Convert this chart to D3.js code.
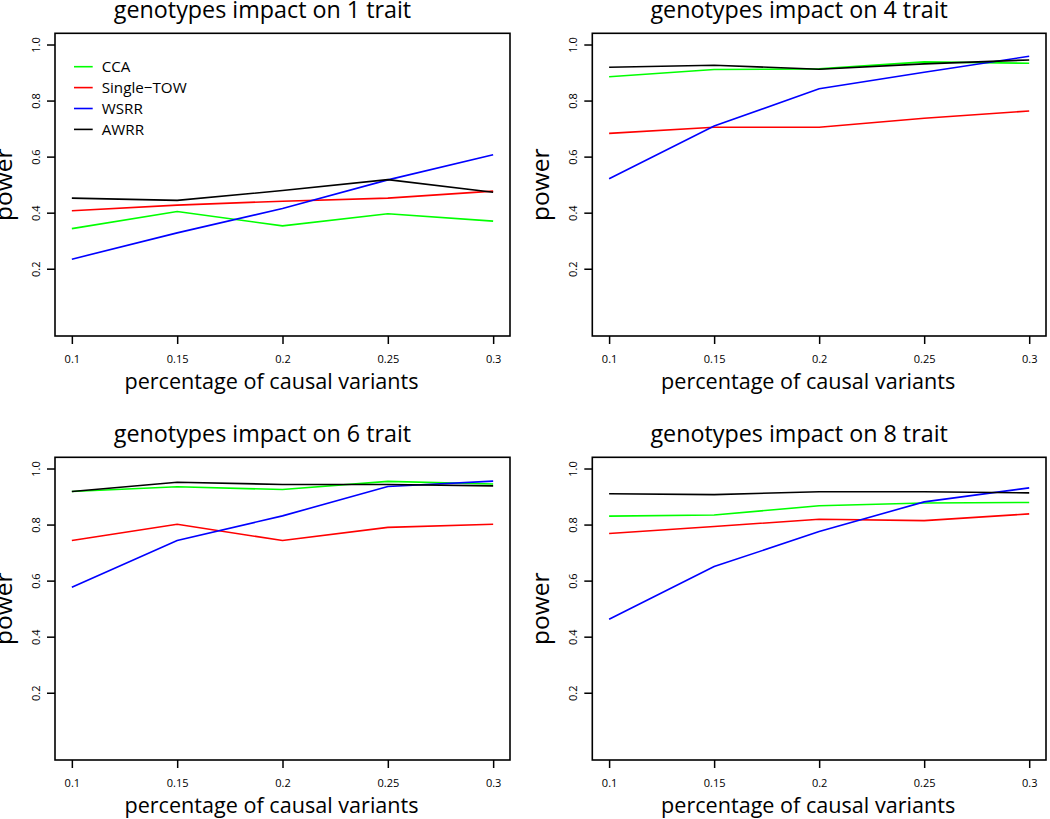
<!DOCTYPE html>
<html>
<head>
<meta charset="utf-8">
<script src="https://d3js.org/d3.v7.min.js"></script>
<style>
  body { margin: 0; background: #fff; }
  svg { display: block; font-family: "Open Sans", sans-serif; }
</style>
</head>
<body>
<svg width="1050" height="819"></svg>
<script>
// x values (percentage of causal variants) and tick labels
var xValues = [0.1, 0.15, 0.2, 0.25, 0.3];
var xTickLabels = ["0.1", "0.15", "0.2", "0.25", "0.3"];
var yTicks = [0.2, 0.4, 0.6, 0.8, 1.0];
var seriesNames = ["CCA", "Single\u2212TOW", "WSRR", "AWRR"];
var panelTitles = [
  "genotypes impact on 1 trait",
  "genotypes impact on 4 trait",
  "genotypes impact on 6 trait",
  "genotypes impact on 8 trait"
];

// power values
var cca1  = [0.343, 0.404, 0.353, 0.396, 0.370];
var tow1  = [0.407, 0.427, 0.441, 0.452, 0.477];
var wsrr1 = [0.234, 0.328, 0.415, 0.517, 0.607];
var awrr1 = [0.452, 0.444, 0.479, 0.518, 0.473];

var cca4  = [0.885, 0.911, 0.913, 0.938, 0.933];
var tow4  = [0.683, 0.705, 0.705, 0.737, 0.763];
var wsrr4 = [0.521, 0.709, 0.842, 0.901, 0.958];
var awrr4 = [0.919, 0.926, 0.912, 0.931, 0.945];

var cca6  = [0.918, 0.935, 0.925, 0.954, 0.945];
var tow6  = [0.743, 0.801, 0.743, 0.790, 0.801];
var wsrr6 = [0.576, 0.743, 0.831, 0.936, 0.955];
var awrr6 = [0.918, 0.951, 0.943, 0.943, 0.938];

var cca8  = [0.830, 0.834, 0.867, 0.877, 0.879];
var tow8  = [0.768, 0.793, 0.819, 0.814, 0.838];
var wsrr8 = [0.462, 0.650, 0.775, 0.881, 0.931];
var awrr8 = [0.910, 0.907, 0.917, 0.917, 0.913];

var panelData = [
  [cca1, tow1, wsrr1, awrr1],
  [cca4, tow4, wsrr4, awrr4],
  [cca6, tow6, wsrr6, awrr6],
  [cca8, tow8, wsrr8, awrr8]
];

var colors = ["#00ff00", "#ff0000", "#0000ff", "#000000"];

// plot boxes (left, right, top, bottom)
var boxes = [
  {l: 55,    r: 510,  t: 33.3,  b: 336},
  {l: 592.3, r: 1046, t: 33.3,  b: 336},
  {l: 55,    r: 510,  t: 457.3, b: 760},
  {l: 592.3, r: 1046, t: 457.3, b: 760}
];

var svg = d3.select("svg");

boxes.forEach(function(box, p) {
  var g = svg.append("g");

  var x = d3.scaleLinear().domain([0.092, 0.308]).range([box.l, box.r]);
  var y = d3.scaleLinear().domain([-0.04, 1.04]).range([box.b, box.t]);

  // x axis
  var xAxis = d3.axisBottom(x)
    .tickValues(xValues)
    .tickFormat(function(d, i) { return xTickLabels[i]; })
    .tickSize(8)
    .tickPadding(11);
  var gx = g.append("g").attr("transform", "translate(0," + box.b + ")").call(xAxis);
  gx.select(".domain").remove();
  gx.selectAll("line").attr("stroke", "#000").attr("stroke-width", 1.5);
  gx.selectAll("text").attr("font-size", 11).attr("fill", "#000")
    .attr("font-family", "Open Sans, sans-serif");

  // y axis with rotated labels
  var yAxis = d3.axisLeft(y)
    .tickValues(yTicks)
    .tickFormat(d3.format(".1f"))
    .tickSize(8);
  var gy = g.append("g").attr("transform", "translate(" + box.l + ",0)").call(yAxis);
  gy.select(".domain").remove();
  gy.selectAll("line").attr("stroke", "#000").attr("stroke-width", 1.5);
  gy.selectAll("text")
    .attr("font-size", 11).attr("fill", "#000")
    .attr("font-family", "Open Sans, sans-serif")
    .attr("transform", "rotate(-90)")
    .attr("x", 0).attr("y", -15.5).attr("dy", 0)
    .attr("text-anchor", "middle");

  // series lines
  var line = d3.line()
    .x(function(d, i) { return x(xValues[i]); })
    .y(function(d) { return y(d); });
  panelData[p].forEach(function(vals, s) {
    g.append("path")
      .datum(vals)
      .attr("d", line)
      .attr("fill", "none")
      .attr("stroke", colors[s])
      .attr("stroke-width", 1.6);
  });

  // box
  g.append("rect")
    .attr("x", box.l).attr("y", box.t)
    .attr("width", box.r - box.l).attr("height", box.b - box.t)
    .attr("fill", "none").attr("stroke", "#000").attr("stroke-width", 1.6);

  var cx = (box.l + box.r) / 2;

  // title
  g.append("text")
    .attr("x", cx - 20).attr("y", box.t - 15.8)
    .attr("text-anchor", "middle")
    .attr("font-size", 23.3)
    .text(panelTitles[p]);

  // x label
  g.append("text")
    .attr("x", cx - 11).attr("y", box.b + 53)
    .attr("text-anchor", "middle")
    .attr("font-size", 21.6)
    .text("percentage of causal variants");

  // y label
  g.append("text")
    .attr("transform", "translate(" + (box.l - 43) + "," + ((box.t + box.b) / 2) + ") rotate(-90)")
    .attr("text-anchor", "middle")
    .attr("font-size", 24.5)
    .text("power");

  // legend in first panel
  if (p === 0) {
    var leg = g.append("g");
    seriesNames.forEach(function(name, s) {
      var ly = 66.7 + s * 20.9;
      leg.append("line")
        .attr("x1", 74).attr("x2", 92.7)
        .attr("y1", ly).attr("y2", ly)
        .attr("stroke", colors[s]).attr("stroke-width", 1.6);
      leg.append("text")
        .attr("x", 101.7).attr("y", ly)
        .attr("dy", "0.36em")
        .attr("font-size", 15.2)
        .text(name);
    });
  }
});
</script>
</body>
</html>
